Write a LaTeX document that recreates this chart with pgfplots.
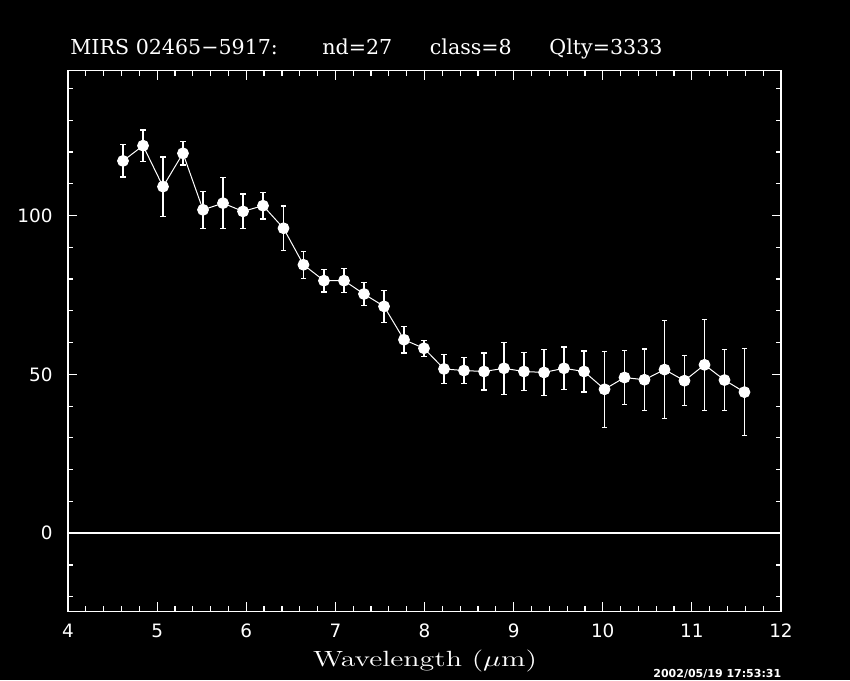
\documentclass[border=0pt]{standalone}
\usepackage{pgfplots}
\pgfplotsset{compat=1.18}
\usepackage{fontspec}
\newfontfamily\serifT{DejaVu Serif}
\newfontfamily\sansT{DejaVu Sans}
\pgfplotstableread{
x y e
4.617 117.2 5.1
4.842 122.0 4.9
5.066 109.1 9.35
5.290 119.6 3.7
5.515 101.8 5.8
5.739 103.9 8.05
5.964 101.3 5.5
6.188 103.1 4.2
6.418 96.0 7.0
6.642 84.5 4.2
6.872 79.5 3.6
7.097 79.5 3.85
7.321 75.3 3.7
7.546 71.4 5.05
7.770 60.9 4.2
7.994 58.2 2.55
8.219 51.7 4.55
8.443 51.2 4.2
8.668 50.9 5.85
8.892 51.9 8.15
9.116 50.9 6.0
9.341 50.6 7.3
9.565 51.9 6.7
9.790 50.9 6.45
10.020 45.3 11.95
10.244 49.0 8.55
10.468 48.3 9.7
10.693 51.5 15.35
10.917 48.0 7.85
11.142 53.0 14.3
11.366 48.2 9.7
11.590 44.4 13.75
}\datatab
\begin{document}
\begin{tikzpicture}
\fill[black] (0,0) rectangle (425pt,340pt);
\begin{axis}[
  at={(34pt,34.35pt)}, anchor=south west,
  scale only axis, width=356.5pt, height=270.3pt,
  xmin=4, xmax=12, ymin=-24.6, ymax=145.6,
  axis line style={draw=white, line width=0.6pt},
  every tick/.style={draw=white, line width=0.6pt},
  tick align=inside,
  major tick length=4.5pt, minor tick length=2.5pt,
  xtick={4,5,...,12}, minor x tick num=4,
  ytick={0,50,100}, minor ytick={-20,-10,...,140},
  ticklabel style={font=\sansT\fontsize{9.2}{10}\selectfont, text=white},
  /pgf/number format/assume math mode=true,
  xticklabel style={inner sep=0pt, anchor=north, yshift=-6pt},
  yticklabel style={inner sep=0pt, anchor=east, xshift=-7.5pt},
]
\addplot[white, line width=1pt, forget plot] coordinates {(4,0) (12,0)};
\addplot[white, line width=0.5pt, mark=*, mark size=2.7pt,
  mark options={fill=white, draw=white},
  error bars/.cd, y dir=both, y explicit,
  error bar style={white, line width=0.6pt},
  error mark options={white, rotate=90, mark size=1.3pt, line width=0.6pt}]
  table[x=x, y=y, y error=e] {\datatab};
\end{axis}
\begin{scope}[every node/.style={text=white, inner sep=0pt}]
\node[anchor=base west, font=\serifT\fontsize{10.3}{12}\selectfont] at (35pt,312.5pt) {MIRS 02465−5917:};
\node[anchor=base west, font=\serifT\fontsize{10.3}{12}\selectfont] at (161pt,312.5pt) {nd=27};
\node[anchor=base west, font=\serifT\fontsize{10.3}{12}\selectfont] at (214.75pt,312.5pt) {class=8};
\node[anchor=base west, font=\serifT\fontsize{10.3}{12}\selectfont] at (274.5pt,312.5pt) {Qlty=3333};
\node[anchor=base, xscale=1.36, transform shape, font=\fontsize{11}{13}\selectfont] at (212.5pt,6.65pt) {Wavelength ($\mu$m)};
\node[anchor=base west, font=\sansT\bfseries\fontsize{5.5}{6}\selectfont] at (326.5pt,1.2pt) {2002/05/19 17:53:31};
\end{scope}
\pgfresetboundingbox
\path (0,0) rectangle (425pt,340pt);
\end{tikzpicture}
\end{document}
